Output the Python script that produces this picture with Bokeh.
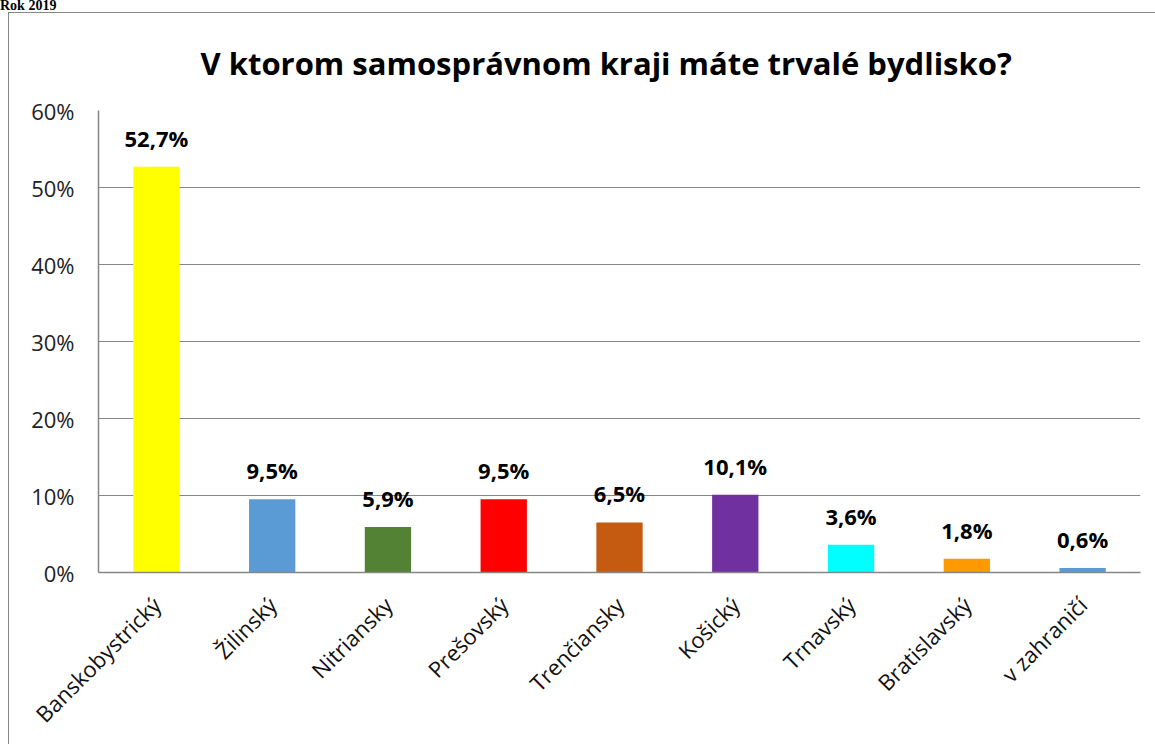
from bokeh.plotting import figure
from bokeh.models import ColumnDataSource, FixedTicker, Div, InlineStyleSheet
from bokeh.layouts import column
from bokeh.core.properties import value
from bokeh.embed import file_html
from bokeh.resources import INLINE
import math

categories = ["Banskobystrický", "Žilinský", "Nitriansky", "Prešovský", "Trenčiansky",
              "Košický", "Trnavský", "Bratislavský", "v zahraničí"]
values = [52.7, 9.5, 5.9, 9.5, 6.5, 10.1, 3.6, 1.8, 0.6]
colors = ["#FFFF00", "#5B9BD5", "#548235", "#FF0000", "#C55A11",
          "#7030A0", "#00FFFF", "#FF9900", "#5B9BD5"]
y_ticks = [0, 10, 20, 30, 40, 50, 60]
y_tick_labels = ["0%", "10%", "20%", "30%", "40%", "50%", "60%"]
title_text = "V ktorom samosprávnom kraji máte trvalé bydlisko?"
header_text = "Rok 2019"

labels = [("%.1f" % v).replace(".", ",") + "%" for v in values]
src = ColumnDataSource(dict(cat=categories, val=values, col=colors, lab=labels))

FONT = "Open Sans"
css = InlineStyleSheet(css="""
:host::after {
  content: "";
  position: absolute;
  left: 8px; top: 0px; right: 0px; bottom: 0px;
  border-left: 1.5px solid #878787;
  border-top: 1.5px solid #878787;
  pointer-events: none;
}
""")

header = Div(text=header_text, width=1155, height=12, margin=(0, 0, 0, 0),
             styles={"font-family": "Liberation Serif", "font-weight": "bold",
                     "font-size": "14px", "line-height": "12px", "color": "#000000",
                     "overflow": "visible", "white-space": "nowrap"})

p = figure(x_range=categories, y_range=(0, 60), width=1155, height=732,
           output_backend="svg", toolbar_location=None,
           min_border_left=98, min_border_right=15, min_border_top=98, min_border_bottom=172,
           stylesheets=[css], margin=(0, 0, 0, 0))
p.outline_line_color = None
p.background_fill_color = "white"
p.border_fill_color = "white"

p.title.text = title_text
p.title.align = "left"
p.title.offset = 102
p.title.text_font = FONT
p.title.text_font_size = "31px"
p.title.text_font_style = "bold"
p.title.text_color = "#000000"
p.title.standoff = 54

p.vbar(x="cat", top="val", width=0.4, color="col", line_color=None, source=src)
p.text(x="cat", y="val", text="lab", source=src, text_align="center", text_baseline="bottom",
       y_offset=-14, text_font=value(FONT), text_font_size="22px", text_font_style="bold",
       text_color="#000000")

p.yaxis.ticker = FixedTicker(ticks=y_ticks)
p.yaxis.major_label_overrides = {t: l for t, l in zip(y_ticks, y_tick_labels)}
p.yaxis.major_label_text_font = FONT
p.yaxis.major_label_text_font_size = "22px"
p.yaxis.major_label_text_color = "#222222"
p.yaxis.major_tick_line_color = None
p.yaxis.minor_tick_line_color = None
p.yaxis.axis_line_color = "#868686"
p.yaxis.axis_line_width = 1.5
p.yaxis.major_label_standoff = 18

p.xaxis.major_label_orientation = math.pi / 4
p.xaxis.major_label_text_font = FONT
p.xaxis.major_label_text_font_size = "22px"
p.xaxis.major_label_text_color = "#111111"
p.xaxis.major_tick_line_color = None
p.xaxis.axis_line_color = "#868686"
p.xaxis.axis_line_width = 1.5
p.xaxis.major_label_standoff = 22

p.xgrid.grid_line_color = None
p.ygrid.grid_line_color = "#868686"
p.ygrid.grid_line_width = 1

layout = column(header, p, spacing=0, margin=(0, 0, 0, 0))
open("out.html", "w").write(file_html(layout, INLINE))
